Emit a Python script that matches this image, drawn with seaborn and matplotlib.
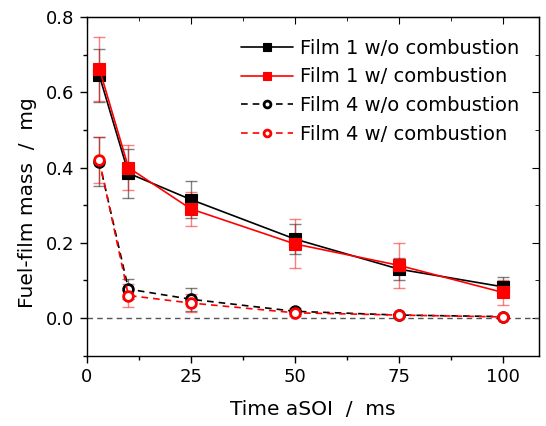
import matplotlib
matplotlib.use("Agg")
import matplotlib.pyplot as plt
import seaborn as sns
import pandas as pd
import numpy as np
from matplotlib.ticker import MultipleLocator

sns.set_style("white")
plt.rcParams['font.family'] = ['DejaVu Sans']
plt.rcParams['text.color'] = 'black'
plt.rcParams['axes.labelcolor'] = 'black'
plt.rcParams['xtick.color'] = 'black'
plt.rcParams['ytick.color'] = 'black'

time_ms = [3, 10, 25, 50, 75, 100]
film1_wo = [0.645, 0.385, 0.315, 0.210, 0.130, 0.083]
film1_wo_err = [0.070, 0.065, 0.050, 0.040, 0.030, 0.027]
film1_w = [0.663, 0.400, 0.290, 0.197, 0.140, 0.068]
film1_w_err = [0.085, 0.060, 0.045, 0.065, 0.060, 0.033]
film4_wo = [0.415, 0.077, 0.050, 0.018, 0.008, 0.004]
film4_wo_err = [0.065, 0.027, 0.030, 0.008, 0.004, 0.003]
film4_w = [0.420, 0.060, 0.040, 0.014, 0.008, 0.003]
film4_w_err = [0.060, 0.030, 0.025, 0.008, 0.004, 0.003]

labels = ["Film 1 w/o combustion", "Film 1 w/ combustion",
          "Film 4 w/o combustion", "Film 4 w/ combustion"]

fig = plt.figure(figsize=(5.46, 4.26), dpi=100)
ax = fig.add_axes([0.159, 0.165, 0.828, 0.795])

ax.axhline(0, color="#555555", ls=(0, (4, 3)), lw=1, zorder=1)

series = [
    (film1_wo, film1_wo_err, labels[0], "black", "-", "s", "black"),
    (film1_w, film1_w_err, labels[1], "red", "-", "s", "red"),
    (film4_wo, film4_wo_err, labels[2], "black", (0, (4, 3)), "o", "white"),
    (film4_w, film4_w_err, labels[3], "red", (0, (4, 3)), "o", "white"),
]

for vals, errs, lab, col, ls, mk, fc in series:
    ax.errorbar(time_ms, vals, yerr=errs, fmt="none", ecolor=col, alpha=0.5,
                elinewidth=1, capsize=4, capthick=1, zorder=2)
    df = pd.DataFrame({"t": time_ms, "m": vals})
    sns.lineplot(data=df, x="t", y="m", ax=ax, color=col, linestyle=ls,
                 lw=1.2, marker=mk, markersize=8 if mk == "s" else 7,
                 markerfacecolor=fc,
                 markeredgecolor=col, markeredgewidth=2 if mk == "o" else 0.8,
                 label=lab, zorder=3)

ax.set_xlim(0, 108.6)
ax.set_ylim(-0.1, 0.8)
ax.xaxis.set_major_locator(MultipleLocator(25))
ax.xaxis.set_minor_locator(MultipleLocator(12.5))
ax.yaxis.set_major_locator(MultipleLocator(0.2))
ax.yaxis.set_minor_locator(MultipleLocator(0.1))
ax.yaxis.set_major_formatter(matplotlib.ticker.FormatStrFormatter("%.1f"))
ax.tick_params(axis="both", which="major", direction="out", length=5, width=1,
               labelsize=13, colors="black", bottom=True, left=True, pad=4)
ax.tick_params(axis="both", which="minor", direction="out", length=3, width=1,
               bottom=True, left=True)
for s in ax.spines.values():
    s.set_color("black")
    s.set_linewidth(1)

secx = ax.secondary_xaxis("top")
secx.xaxis.set_major_locator(MultipleLocator(25))
secx.xaxis.set_minor_locator(MultipleLocator(12.5))
secx.tick_params(which="major", direction="in", length=5, labeltop=False)
secx.tick_params(which="minor", direction="in", length=3)
secy = ax.secondary_yaxis("right")
secy.yaxis.set_major_locator(MultipleLocator(0.2))
secy.yaxis.set_minor_locator(MultipleLocator(0.1))
secy.tick_params(which="major", direction="in", length=5, labelright=False)
secy.tick_params(which="minor", direction="in", length=3)

ax.set_xlabel("Time aSOI  /  ms", fontsize=14.5, labelpad=10)
ax.set_ylabel("Fuel-film mass  /  mg", fontsize=14.5)
ax.yaxis.set_label_coords(-0.11, 0.453)

ax.legend(loc="upper right", frameon=False, fontsize=14, handlelength=2.7,
          borderaxespad=0.3, labelspacing=0.5, handletextpad=0.35,
          markerscale=0.7, bbox_to_anchor=(1 - 6 / 452, 1 - 8 / 338))

fig.savefig("out.png", dpi=100)
